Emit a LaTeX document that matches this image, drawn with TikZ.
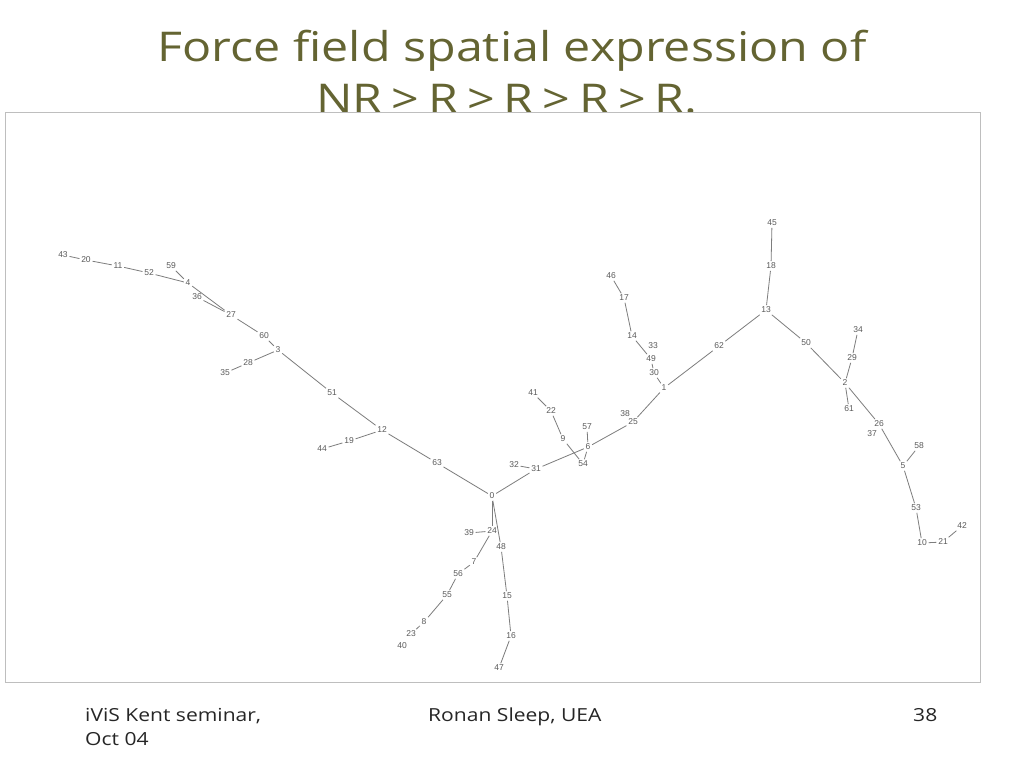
\documentclass[tikz,border=0pt]{standalone}
\usepackage{fontspec}
\setmainfont[FakeStretch=1.17]{Open Sans}
\newfontfamily\titlefont[FakeStretch=1.18, Ligatures=NoCommon]{Open Sans}
\newfontfamily\labfont{Liberation Sans}
\definecolor{olive}{RGB}{100,100,50}
\definecolor{edgegray}{RGB}{125,125,125}
\definecolor{labgray}{RGB}{90,90,90}
\definecolor{framegray}{RGB}{190,190,190}
\newcommand{\gtsep}{\hspace{9pt}>\hspace{9pt}}
\begin{document}
\begin{tikzpicture}[x=1pt,y=-1pt,
  lab/.style={font=\labfont\fontsize{8.5}{8.5}\selectfont, text=labgray, inner sep=1.6pt},
  edge/.style={draw=edgegray, line width=0.8pt},
  titletext/.style={font=\titlefont\fontsize{41}{41}\selectfont, text=olive, inner sep=0pt, anchor=base},
  foot/.style={font=\fontsize{18}{18}\selectfont, text=black!85, inner sep=0pt, anchor=base west}]
\useasboundingbox (0,0) rectangle (1024,768);
\fill[white] (0,0) rectangle (1024,768);
% title
\node[titletext] (t1) at (512,62) {Force field spatial expression of};
\node[titletext] (t2) at (507,113) {NR\gtsep R\gtsep R\gtsep R\gtsep R.};
% picture frame (covers title bottom)
\draw[framegray, fill=white, line width=0.8pt] (5,112) rectangle (980,682);
% footer
\node[foot] (f1) at (85,721) {iViS Kent seminar,};
\node[foot] (f2) at (85,745) {Oct 04};
\node[foot] (f3) at (428,721) {Ronan Sleep, UEA};
\node[foot] (f4) at (913,721) {38};
% graph nodes
\node[lab] (n43) at (63,255) {43};
\node[lab] (n20) at (86,260) {20};
\node[lab] (n11) at (118,266) {11};
\node[lab] (n52) at (149,273) {52};
\node[lab] (n59) at (171,266) {59};
\node[lab] (n4) at (188,283) {4};
\node[lab] (n36) at (197,297) {36};
\node[lab] (n27) at (231,315) {27};
\node[lab] (n60) at (264,336) {60};
\node[lab] (n3) at (278,350) {3};
\node[lab] (n28) at (248,363) {28};
\node[lab] (n35) at (225,373) {35};
\node[lab] (n51) at (332,393) {51};
\node[lab] (n12) at (382,430) {12};
\node[lab] (n19) at (349,441) {19};
\node[lab] (n44) at (322,449) {44};
\node[lab] (n63) at (437,463) {63};
\node[lab] (n0) at (492,496) {0};
\node[lab] (n32) at (514,465) {32};
\node[lab] (n31) at (536,469) {31};
\node[lab] (n41) at (533,393) {41};
\node[lab] (n22) at (551,411) {22};
\node[lab] (n9) at (563,439) {9};
\node[lab] (n57) at (587,427) {57};
\node[lab] (n6) at (588,447) {6};
\node[lab] (n54) at (583,464) {54};
\node[lab] (n38) at (625,414) {38};
\node[lab] (n25) at (633,422) {25};
\node[lab] (n1) at (664,388) {1};
\node[lab] (n30) at (654,373) {30};
\node[lab] (n49) at (651,359) {49};
\node[lab] (n33) at (653,346) {33};
\node[lab] (n14) at (632,336) {14};
\node[lab] (n17) at (624,298) {17};
\node[lab] (n46) at (611,276) {46};
\node[lab] (n62) at (719,346) {62};
\node[lab] (n13) at (766,310) {13};
\node[lab] (n18) at (771,266) {18};
\node[lab] (n45) at (772,223) {45};
\node[lab] (n50) at (806,343) {50};
\node[lab] (n34) at (858,330) {34};
\node[lab] (n29) at (852,358) {29};
\node[lab] (n2) at (845,383) {2};
\node[lab] (n61) at (849,409) {61};
\node[lab] (n26) at (879,424) {26};
\node[lab] (n37) at (872,434) {37};
\node[lab] (n58) at (919,446) {58};
\node[lab] (n5) at (903,466) {5};
\node[lab] (n53) at (916,508) {53};
\node[lab] (n10) at (922,543) {10};
\node[lab] (n21) at (943,542) {21};
\node[lab] (n42) at (962,526) {42};
\node[lab] (n24) at (492,531) {24};
\node[lab] (n39) at (469,533) {39};
\node[lab] (n48) at (501,547) {48};
\node[lab] (n7) at (474,562) {7};
\node[lab] (n56) at (458,574) {56};
\node[lab] (n55) at (447,595) {55};
\node[lab] (n8) at (424,622) {8};
\node[lab] (n23) at (411,634) {23};
\node[lab] (n40) at (402,646) {40};
\node[lab] (n15) at (507,596) {15};
\node[lab] (n16) at (511,636) {16};
\node[lab] (n47) at (499,668) {47};
% edges
\foreach \a/\b in {43/20,20/11,11/52,52/4,59/4,4/27,36/27,27/60,60/3,3/28,28/35,3/51,51/12,12/19,19/44,12/63,63/0,
  0/31,32/31,31/6,41/22,22/9,9/54,57/6,6/54,6/25,25/1,1/30,30/49,49/14,14/17,17/46,1/62,62/13,13/18,18/45,13/50,
  50/2,2/29,29/34,2/61,2/26,26/5,5/58,5/53,53/10,10/21,21/42,0/24,0/48,24/39,24/7,7/56,56/55,55/8,8/23,48/15,15/16,16/47}
  \draw[edge] (n\a) -- (n\b);
\end{tikzpicture}
\end{document}
